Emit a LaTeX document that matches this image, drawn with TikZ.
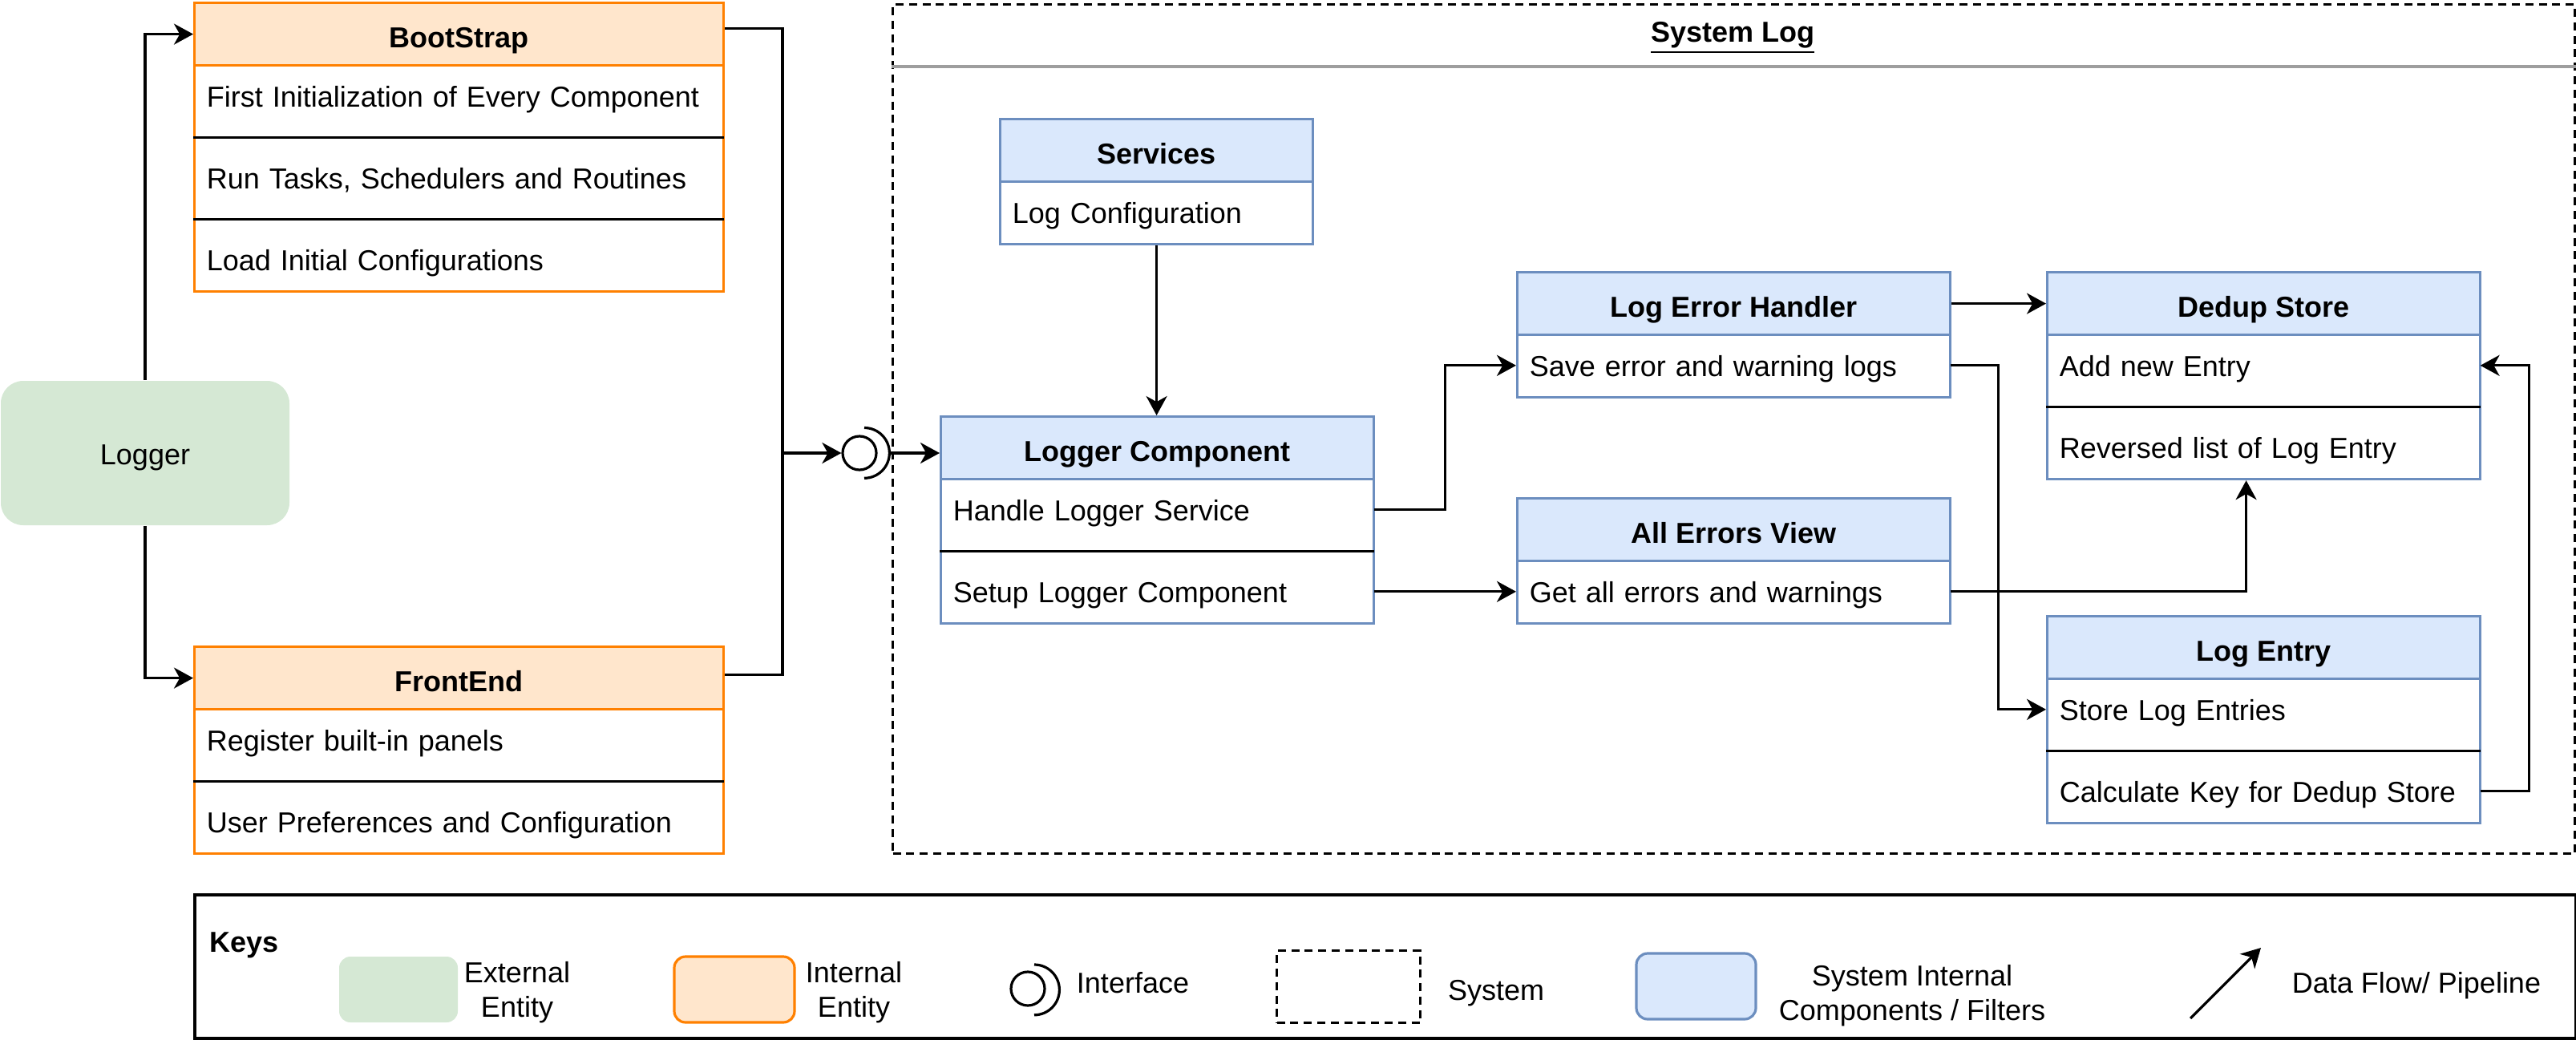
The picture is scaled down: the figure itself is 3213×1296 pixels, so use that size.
\documentclass[tikz,border=0pt]{standalone}
\usepackage{fontspec}
\setmainfont{Liberation Sans}
\usetikzlibrary{arrows.meta,calc}
\definecolor{orgS}{HTML}{FF8000}
\definecolor{orgF}{HTML}{FFE6CC}
\definecolor{bluS}{HTML}{6C8EBF}
\definecolor{bluF}{HTML}{DAE8FC}
\definecolor{grnF}{HTML}{D5E8D4}
\definecolor{titleLine}{HTML}{9E9E9E}
\newcommand\fnt{\fontsize{9}{10.7}\selectfont}
\tikzset{
  outerO/.style={draw=orgS, fill=white, line width=0.8pt, anchor=north west, inner sep=0pt},
  hdrO/.style={draw=orgS, fill=orgF, line width=0.8pt, anchor=north west, inner sep=0pt, minimum height=19.5pt, text height=10pt, text depth=1.5pt, font=\fnt\bfseries},
  outerB/.style={draw=bluS, fill=white, line width=0.8pt, anchor=north west, inner sep=0pt},
  hdrB/.style={draw=bluS, fill=bluF, line width=0.8pt, anchor=north west, inner sep=0pt, minimum height=19.5pt, text height=10pt, text depth=1.5pt, font=\fnt\bfseries},
  rowtext/.style={anchor=north west, inner xsep=4pt, inner ysep=0pt, minimum height=19.5pt, text height=8.5pt, text depth=1.5pt, align=left, font=\fnt},
  sepline/.style={line width=0.8pt, black},
  conn/.style={line width=0.8pt},
  flow/.style={line width=0.8pt, -{Stealth[length=6pt, width=6.5pt, inset=1.8pt]}},
  sysbox/.style={draw, line width=0.8pt, dash pattern=on 2.5pt off 1.7pt, anchor=north west, inner sep=0pt},
  txt/.style={font=\fnt, inner sep=0pt, text height=8.5pt, text depth=1.5pt},
  ltxt/.style={font=\fnt, inner sep=0pt, align=center},
}
\begin{document}
\begin{tikzpicture}[x=0.25pt,y=-0.25pt]
\useasboundingbox (0,0) rectangle (3213,1296);

% ---------- System Log frame ----------
\node[sysbox, minimum width=524.5pt, minimum height=264.75pt] (sys) at (1112,4) {};
\node[txt, font=\fnt\bfseries] (sys-t) at (2161,38) {\underline{System Log}};
\draw[titleLine, line width=0.8pt] ([yshift=-19.75pt]sys.north west) -- ([yshift=-19.75pt]sys.north east);

% ---------- Logger (external) ----------
\node[fill=grnF, rounded corners=7pt, minimum width=90pt, minimum height=45pt, inner sep=0pt, text height=8.5pt, text depth=1.5pt, font=\fnt] (logger) at (181,565) {Logger};

% ---------- BootStrap ----------
\node[outerO, minimum width=165pt, minimum height=90pt] (bs) at (241,2) {};
\node[hdrO, minimum width=165pt] (bs-h) at (241,2) {BootStrap};
\node[rowtext, text width=157pt] (bs-1) at (241,80) {First Initialization of Every Component};
\node[rowtext, text width=157pt] (bs-2) at (241,182) {Run Tasks, Schedulers and Routines};
\node[rowtext, text width=157pt] (bs-3) at (241,284) {Load Initial Configurations};
\draw[sepline] ([yshift=-3pt]bs-1.south west) -- ([yshift=-3pt]bs-1.south east);
\draw[sepline] ([yshift=-3pt]bs-2.south west) -- ([yshift=-3pt]bs-2.south east);

% ---------- FrontEnd ----------
\node[outerO, minimum width=165pt, minimum height=64.5pt] (fe) at (241,805) {};
\node[hdrO, minimum width=165pt] (fe-h) at (241,805) {FrontEnd};
\node[rowtext, text width=157pt] (fe-1) at (241,883) {Register built-in panels};
\node[rowtext, text width=157pt] (fe-2) at (241,985) {User Preferences and Configuration};
\draw[sepline] ([yshift=-3pt]fe-1.south west) -- ([yshift=-3pt]fe-1.south east);

% ---------- Services ----------
\node[outerB, minimum width=97.5pt, minimum height=39pt] (sv) at (1246,147) {};
\node[hdrB, minimum width=97.5pt] (sv-h) at (1246,147) {Services};
\node[rowtext, text width=89.5pt] (sv-1) at (1246,225) {Log Configuration};

% ---------- Logger Component ----------
\node[outerB, minimum width=135pt, minimum height=64.5pt] (lc) at (1172,518) {};
\node[hdrB, minimum width=135pt] (lc-h) at (1172,518) {Logger Component};
\node[rowtext, text width=127pt] (lc-1) at (1172,596) {Handle Logger Service};
\node[rowtext, text width=127pt] (lc-2) at (1172,698) {Setup Logger Component};
\draw[sepline] ([yshift=-3pt]lc-1.south west) -- ([yshift=-3pt]lc-1.south east);

% ---------- Log Error Handler ----------
\node[outerB, minimum width=135pt, minimum height=39pt] (leh) at (1891,338) {};
\node[hdrB, minimum width=135pt] (leh-h) at (1891,338) {Log Error Handler};
\node[rowtext, text width=127pt] (leh-1) at (1891,416) {Save error and warning logs};

% ---------- All Errors View ----------
\node[outerB, minimum width=135pt, minimum height=39pt] (ae) at (1891,620) {};
\node[hdrB, minimum width=135pt] (ae-h) at (1891,620) {All Errors View};
\node[rowtext, text width=127pt] (ae-1) at (1891,698) {Get all errors and warnings};

% ---------- Dedup Store ----------
\node[outerB, minimum width=135pt, minimum height=64.5pt] (dd) at (2552,338) {};
\node[hdrB, minimum width=135pt] (dd-h) at (2552,338) {Dedup Store};
\node[rowtext, text width=127pt] (dd-1) at (2552,416) {Add new Entry};
\node[rowtext, text width=127pt] (dd-2) at (2552,518) {Reversed list of Log Entry};
\draw[sepline] ([yshift=-3pt]dd-1.south west) -- ([yshift=-3pt]dd-1.south east);

% ---------- Log Entry ----------
\node[outerB, minimum width=135pt, minimum height=64.5pt] (le) at (2552,767) {};
\node[hdrB, minimum width=135pt] (le-h) at (2552,767) {Log Entry};
\node[rowtext, text width=127pt] (le-1) at (2552,845) {Store Log Entries};
\node[rowtext, text width=127pt] (le-2) at (2552,947) {Calculate Key for Dedup Store};
\draw[sepline] ([yshift=-3pt]le-1.south west) -- ([yshift=-3pt]le-1.south east);

% ---------- Interface ----------
\node[circle, draw, line width=0.8pt, minimum size=10.5pt, inner sep=0pt] (ifc) at (1072,565) {};
\coordinate (ifc-r) at (1109,565);
\draw[conn] (1078,533.5) arc[start angle=90, end angle=-90, radius=7.85pt];
\coordinate (jn) at (976,565);

% ---------- Connectors ----------
\draw[flow] (logger.north) |- (bs-h.west);
\draw[flow] (logger.south) |- (fe-h.west);
\draw[conn] ([yshift=1.75pt]bs-h.east) -| (jn);
\draw[conn] ([yshift=1pt]fe-h.east) -| (jn);
\draw[flow] (jn) -- (ifc.west);
\draw[flow] (ifc-r) -- (ifc-r -| lc.west);
\draw[flow] (sv.south) -- (sv.south |- lc.north);
\draw[flow] (lc-1.east) -| ($(lc-1.east)!0.5!(leh-1.west)$) |- (leh-1.west);
\draw[flow] (lc-2.east) -- (ae-1.west);
\draw[flow] (leh-h.east) -- (dd-h.west);
\draw[flow] (leh-1.east) -| ($(leh-1.east)!0.5!(le-1.west)$) |- (le-1.west);
\draw[flow] (ae-1.east) -| ([xshift=-5.5pt]dd.south);
\draw[flow] (le-2.east) -- ++(15.25pt,0) |- (dd-1.east);

% ---------- Keys ----------
\node[draw, line width=1pt, anchor=north west, inner sep=0pt, minimum width=742.5pt, minimum height=44.75pt] (keys) at (241,1114) {};
\node[txt, font=\fnt\bfseries, anchor=west] (keys-t) at (261,1173) {Keys};
\node[fill=grnF, rounded corners=3.5pt, minimum width=37pt, minimum height=20.5pt, inner sep=0pt] (k-ext) at (497,1234) {};
\node[ltxt] (k-ext-t) at (645,1238) {External\\Entity};
\node[draw=orgS, fill=orgF, line width=0.8pt, rounded corners=3.5pt, minimum width=37.5pt, minimum height=20.5pt, inner sep=0pt] (k-int) at (916,1234) {};
\node[ltxt] (k-int-t) at (1065,1238) {Internal\\Entity};
\node[circle, draw, line width=0.8pt, minimum size=10.5pt, inner sep=0pt] (k-ifc) at (1282,1233) {};
\draw[conn] (1290,1203) arc[start angle=90, end angle=-90, radius=7.85pt];
\node[txt] (k-ifc-t) at (1413,1224) {Interface};
\node[sysbox, minimum width=44.75pt, minimum height=22.5pt] (k-sys) at (1591,1184) {};
\node[txt] (k-sys-t) at (1866,1233) {System};
\node[draw=bluS, fill=bluF, line width=0.8pt, rounded corners=3.5pt, minimum width=37.25pt, minimum height=20.5pt, inner sep=0pt] (k-cmp) at (2115.5,1230) {};
\node[ltxt] (k-cmp-t) at (2385,1242) {System Internal\\Components / Filters};
\coordinate (kA) at (2732,1270);
\coordinate (kB) at (2820,1182);
\draw[flow] (kA) -- (kB);
\node[txt] (k-flow-t) at (3014,1224) {Data Flow/ Pipeline};
\end{tikzpicture}
\end{document}
